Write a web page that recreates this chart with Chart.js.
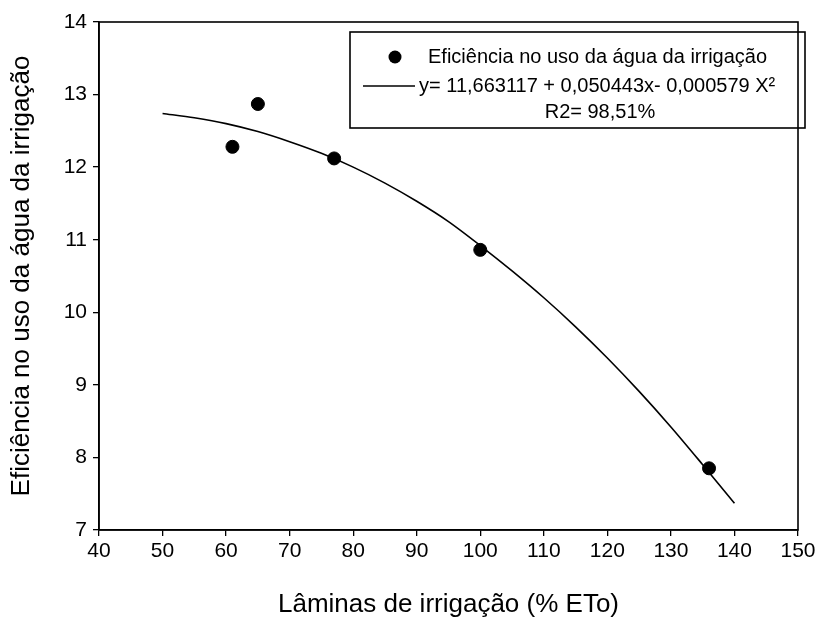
<!DOCTYPE html>
<html>
<head>
<meta charset="utf-8">
<script src="https://cdn.jsdelivr.net/npm/chart.js@4.4.1/dist/chart.umd.min.js"></script>
<style>
  html, body { margin: 0; padding: 0; background: #fff; }
  #wrap { width: 834px; height: 623px; }
</style>
</head>
<body>
<div id="wrap"><canvas id="chart"></canvas></div>
<script>
// observed points
const obsX = [61, 65, 77, 100, 136];
const obsY = [12.28, 12.87, 12.12, 10.86, 7.85];

// fitted curve
const fitX = [50, 55, 60, 65, 70, 75, 80, 85, 90, 95, 100, 105, 110, 115, 120, 125, 130, 135, 140];
const fitY = [12.74, 12.68, 12.60, 12.49, 12.35, 12.19, 12.00, 11.78, 11.53, 11.25, 10.92, 10.57, 10.20, 9.80, 9.37, 8.91, 8.42, 7.90, 7.37];

const xTicks = [40, 50, 60, 70, 80, 90, 100, 110, 120, 130, 140, 150];
const yTicks = [7, 8, 9, 10, 11, 12, 13, 14];

const legendLines = [
    'Eficiência no uso da água da irrigação',
    'y= 11,663117 + 0,050443x- 0,000579 X²',
    'R2= 98,51%'
];

const FONT = '"Liberation Sans", Arial, sans-serif';

const framePlugin = {
    id: 'frame',
    afterDraw(chart) {
        const ctx = chart.ctx;
        const a = chart.chartArea;
        ctx.save();
        ctx.strokeStyle = '#000';
        ctx.lineWidth = 1.6;
        ctx.strokeRect(a.left, a.top, a.right - a.left, a.bottom - a.top);

        // legend box
        ctx.lineWidth = 1.6;
        ctx.strokeRect(350, 32, 455, 96);
        ctx.fillStyle = '#000';
        ctx.beginPath();
        ctx.arc(395, 57, 6.5, 0, Math.PI * 2);
        ctx.fill();
        ctx.beginPath();
        ctx.moveTo(363, 86);
        ctx.lineTo(415, 86);
        ctx.lineWidth = 1.3;
        ctx.stroke();
        ctx.font = '20px ' + FONT;
        ctx.textBaseline = 'middle';
        ctx.textAlign = 'left';
        ctx.fillText(legendLines[0], 428, 57);
        ctx.fillText(legendLines[1], 419, 86);
        ctx.textAlign = 'center';
        ctx.fillText(legendLines[2], 600, 112);
        ctx.restore();
    }
};

new Chart(document.getElementById('chart'), {
    type: 'scatter',
    data: {
        datasets: [
            {
                label: 'Eficiência no uso da água da irrigação',
                data: obsX.map((x, i) => ({ x: x, y: obsY[i] })),
                pointRadius: 6.5,
                pointBackgroundColor: '#000',
                pointBorderColor: '#000',
                showLine: false
            },
            {
                label: 'ajuste',
                data: fitX.map((x, i) => ({ x: x, y: fitY[i] })),
                showLine: true,
                borderColor: '#000',
                borderWidth: 1.6,
                pointRadius: 0,
                tension: 0.3
            }
        ]
    },
    options: {
        responsive: true,
        maintainAspectRatio: false,
        animation: false,
        layout: { padding: { top: 22, right: 36, left: 0, bottom: 0 } },
        plugins: {
            legend: { display: false },
            tooltip: { enabled: false }
        },
        scales: {
            x: {
                type: 'linear',
                min: 40,
                max: 150,
                afterBuildTicks(scale) { scale.ticks = xTicks.map(v => ({ value: v })); },
                afterFit(scale) { scale.height = 93; },
                grid: { drawOnChartArea: false, drawTicks: true, tickLength: 6, color: '#000', lineWidth: 1.3 },
                border: { display: true, color: '#000', width: 1.6 },
                ticks: { color: '#000', font: { family: FONT, size: 21 }, padding: 3, maxRotation: 0 },
                title: {
                    display: true,
                    text: 'Lâminas de irrigação (% ETo)',
                    color: '#000',
                    font: { family: FONT, size: 26 },
                    padding: { top: 8, bottom: 3 }
                }
            },
            y: {
                type: 'linear',
                min: 7,
                max: 14,
                afterBuildTicks(scale) { scale.ticks = yTicks.map(v => ({ value: v })); },
                afterFit(scale) { scale.width = 99; },
                grid: { drawOnChartArea: false, drawTicks: true, tickLength: 6, color: '#000', lineWidth: 1.3 },
                border: { display: true, color: '#000', width: 1.6 },
                ticks: { color: '#000', font: { family: FONT, size: 21 }, padding: 6 },
                title: {
                    display: true,
                    text: 'Eficiência no uso da água da irrigação',
                    color: '#000',
                    font: { family: FONT, size: 26 },
                    padding: { top: 6, bottom: 10 }
                }
            }
        }
    },
    plugins: [framePlugin]
});
</script>
</body>
</html>
